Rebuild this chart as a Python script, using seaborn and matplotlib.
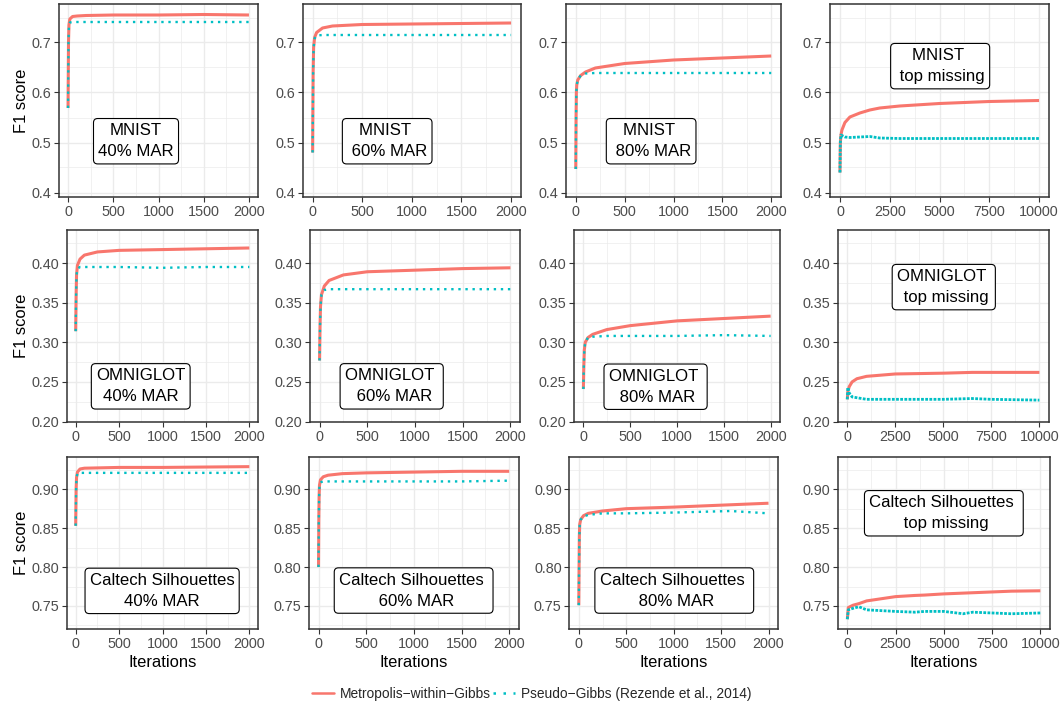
import numpy as np
import pandas as pd
import matplotlib
matplotlib.use("Agg")
import matplotlib.pyplot as plt
from matplotlib.lines import Line2D
from matplotlib.ticker import MultipleLocator, FormatStrFormatter
import seaborn as sns

sns.set_theme(style="white")
plt.rcParams['font.family'] = ['Liberation Sans', 'DejaVu Sans']

# ---------------- data ----------------
methods = ["Metropolis\u2212within\u2212Gibbs", "Pseudo\u2212Gibbs (Rezende et al., 2014)"]

mnist40_it = [0, 5, 10, 20, 50, 100, 200, 500, 1000, 1500, 2000]
mnist40_mwg = [0.569, 0.70, 0.735, 0.747, 0.752, 0.753, 0.754, 0.755, 0.755, 0.756, 0.755]
mnist40_pg = [0.569, 0.70, 0.733, 0.740, 0.741, 0.741, 0.741, 0.741, 0.741, 0.741, 0.741]

mnist60_it = [0, 5, 10, 20, 40, 100, 200, 500, 1000, 1500, 2000]
mnist60_mwg = [0.48, 0.64, 0.69, 0.71, 0.72, 0.729, 0.733, 0.736, 0.737, 0.738, 0.739]
mnist60_pg = [0.48, 0.64, 0.69, 0.708, 0.714, 0.715, 0.715, 0.715, 0.715, 0.715, 0.715]

mnist80_it = [0, 3, 6, 10, 20, 50, 100, 200, 500, 1000, 1500, 2000]
mnist80_mwg = [0.447, 0.55, 0.60, 0.615, 0.625, 0.634, 0.641, 0.649, 0.658, 0.665, 0.669, 0.673]
mnist80_pg = [0.447, 0.55, 0.60, 0.615, 0.625, 0.634, 0.638, 0.639, 0.639, 0.639, 0.639, 0.639]

mnisttop_it = [0, 20, 50, 100, 250, 500, 1000, 1500, 2000, 3000, 5000, 7500, 10000]
mnisttop_mwg = [0.44, 0.50, 0.515, 0.525, 0.54, 0.551, 0.559, 0.565, 0.569, 0.573, 0.578, 0.582, 0.584]
mnisttop_pg = [0.44, 0.50, 0.515, 0.514, 0.511, 0.510, 0.511, 0.512, 0.509, 0.508, 0.508, 0.508, 0.508]

omni40_it = [0, 5, 10, 20, 50, 100, 250, 500, 1000, 1500, 2000]
omni40_mwg = [0.314, 0.36, 0.385, 0.397, 0.405, 0.410, 0.414, 0.416, 0.417, 0.418, 0.419]
omni40_pg = [0.314, 0.36, 0.385, 0.393, 0.395, 0.395, 0.395, 0.395, 0.394, 0.395, 0.395]

omni60_it = [0, 5, 10, 20, 50, 100, 250, 500, 1000, 1500, 2000]
omni60_mwg = [0.277, 0.32, 0.345, 0.36, 0.371, 0.378, 0.385, 0.389, 0.391, 0.393, 0.394]
omni60_pg = [0.277, 0.32, 0.345, 0.36, 0.366, 0.367, 0.367, 0.367, 0.367, 0.367, 0.367]

omni80_it = [0, 5, 10, 20, 50, 100, 250, 500, 1000, 1500, 2000]
omni80_mwg = [0.241, 0.27, 0.29, 0.30, 0.306, 0.310, 0.316, 0.321, 0.327, 0.330, 0.333]
omni80_pg = [0.241, 0.27, 0.29, 0.30, 0.306, 0.307, 0.308, 0.308, 0.308, 0.309, 0.308]

omnitop_it = [0, 30, 100, 250, 500, 1000, 2500, 5000, 6500, 7500, 10000]
omnitop_mwg = [0.228, 0.238, 0.244, 0.250, 0.254, 0.257, 0.260, 0.261, 0.262, 0.262, 0.262]
omnitop_pg = [0.228, 0.243, 0.236, 0.231, 0.230, 0.228, 0.228, 0.228, 0.229, 0.228, 0.227]

cal40_it = [0, 5, 10, 20, 50, 100, 500, 1000, 2000]
cal40_mwg = [0.853, 0.90, 0.915, 0.922, 0.926, 0.927, 0.928, 0.928, 0.929]
cal40_pg = [0.853, 0.90, 0.915, 0.920, 0.921, 0.921, 0.921, 0.921, 0.921]

cal60_it = [0, 3, 6, 10, 20, 50, 100, 250, 500, 1000, 1500, 2000]
cal60_mwg = [0.80, 0.86, 0.89, 0.905, 0.912, 0.916, 0.918, 0.920, 0.921, 0.922, 0.923, 0.923]
cal60_pg = [0.80, 0.86, 0.89, 0.905, 0.909, 0.910, 0.910, 0.910, 0.910, 0.910, 0.910, 0.911]

cal80_it = [0, 3, 6, 10, 20, 50, 100, 250, 500, 1000, 1600, 2000]
cal80_mwg = [0.751, 0.80, 0.84, 0.855, 0.861, 0.866, 0.869, 0.872, 0.875, 0.877, 0.880, 0.882]
cal80_pg = [0.751, 0.80, 0.84, 0.855, 0.861, 0.865, 0.867, 0.869, 0.869, 0.870, 0.872, 0.869]

caltop_it = [0, 50, 300, 600, 1000, 2500, 3500, 4000, 5000, 6000, 6500, 7500, 8500, 10000]
caltop_mwg = [0.733, 0.748, 0.751, 0.753, 0.7565, 0.762, 0.7635, 0.764, 0.7655, 0.7665, 0.767, 0.768, 0.769, 0.7695]
caltop_pg = [0.733, 0.745, 0.747, 0.749, 0.745, 0.743, 0.742, 0.743, 0.743, 0.740, 0.742, 0.741, 0.740, 0.741]

labels = [
    ["MNIST\n40% MAR", "MNIST \n 60% MAR", "MNIST \n 80% MAR", "MNIST \n top missing"],
    ["OMNIGLOT\n40% MAR", "OMNIGLOT \n 60% MAR", "OMNIGLOT \n 80% MAR", "OMNIGLOT \n top missing"],
    ["Caltech Silhouettes\n40% MAR", "Caltech Silhouettes \n 60% MAR",
     "Caltech Silhouettes \n 80% MAR", "Caltech Silhouettes \n top missing"],
]
series = [
    [(mnist40_it, mnist40_mwg, mnist40_pg), (mnist60_it, mnist60_mwg, mnist60_pg),
     (mnist80_it, mnist80_mwg, mnist80_pg), (mnisttop_it, mnisttop_mwg, mnisttop_pg)],
    [(omni40_it, omni40_mwg, omni40_pg), (omni60_it, omni60_mwg, omni60_pg),
     (omni80_it, omni80_mwg, omni80_pg), (omnitop_it, omnitop_mwg, omnitop_pg)],
    [(cal40_it, cal40_mwg, cal40_pg), (cal60_it, cal60_mwg, cal60_pg),
     (cal80_it, cal80_mwg, cal80_pg), (caltop_it, caltop_mwg, caltop_pg)],
]

# ---------------- layout / style ----------------
W, H = 1063, 706
RED, TEAL = "#F8766D", "#00BFC4"
row_y = [(4, 197), (230, 422.3), (457.3, 629)]
col_x = [
    [(59, 258), (302.7, 521), (566, 781), (830, 1049)],
    [(67, 258), (310, 520), (574, 780), (837.7, 1049)],
    [(67, 258), (309, 518.7), (569.3, 778), (837.7, 1050)],
]
ylims = [(0.391, 0.777), (0.199, 0.4417), (0.7204, 0.941)]
ymaj = [0.1, 0.05, 0.05]
yfmt = ["%.1f", "%.2f", "%.2f"]
label_pos = [
    [(0.387, 0.289), (0.387, 0.289), (0.396, 0.289), (0.503, 0.678)],
    [(0.386, 0.187), (0.389, 0.187), (0.396, 0.185), (0.502, 0.703)],
    [(0.498, 0.222), (0.499, 0.224), (0.503, 0.224), (0.500, 0.674)],
]

fig = plt.figure(figsize=(W / 100, H / 100), dpi=100)
fig.patch.set_facecolor("white")

for r in range(3):
    for c in range(4):
        x0, x1 = col_x[r][c]
        y0, y1 = row_y[r]
        ax = fig.add_axes([x0 / W, 1 - y1 / H, (x1 - x0) / W, (y1 - y0) / H])
        it, mwg, pg = series[r][c]
        df = pd.DataFrame({
            "Iterations": list(it) * 2,
            "F1": list(mwg) + list(pg),
            "method": [methods[0]] * len(it) + [methods[1]] * len(it),
        })
        sns.lineplot(data=df[df.method == methods[0]], x="Iterations", y="F1",
                     color=RED, linewidth=2.2, ax=ax, legend=False,
                     errorbar=None, zorder=3, solid_capstyle="butt")
        teal_ls = (0, (1, 0.5)) if c == 3 else (0, (1, 2.0))
        tlw = 2.0 if c == 3 else 1.7
        sns.lineplot(data=df[df.method == methods[1]], x="Iterations", y="F1",
                     color=TEAL, linewidth=tlw, linestyle=teal_ls, ax=ax,
                     legend=False, errorbar=None, zorder=4)
        xmax = 10000 if c == 3 else 2000
        ax.set_xlim(-0.05 * xmax, 1.05 * xmax)
        ax.set_ylim(*ylims[r])
        ax.xaxis.set_major_locator(MultipleLocator(xmax / 4))
        ax.xaxis.set_minor_locator(MultipleLocator(xmax / 8))
        ax.yaxis.set_major_locator(MultipleLocator(ymaj[r]))
        ax.yaxis.set_minor_locator(MultipleLocator(ymaj[r] / 2))
        ax.yaxis.set_major_formatter(FormatStrFormatter(yfmt[r]))
        ax.set_facecolor("white")
        ax.grid(True, which="major", color="#EBEBEB", linewidth=1.0, zorder=0)
        ax.grid(True, which="minor", color="#EBEBEB", linewidth=0.5, zorder=0)
        ax.set_axisbelow(True)
        for s in ax.spines.values():
            s.set_color("#333333")
            s.set_linewidth(1.1)
        ax.tick_params(axis="both", which="major", labelsize=10.4, labelcolor="#4D4D4D",
                       color="#333333", length=3.5, width=0.8, pad=2,
                       bottom=True, left=True)
        ax.tick_params(axis="both", which="minor", length=0)
        if c == 0:
            ax.set_ylabel("F1 score", fontsize=11.9, color="black", labelpad=2)
        else:
            ax.set_ylabel("")
        if r == 2:
            ax.set_xlabel("Iterations", fontsize=11.9, color="black", labelpad=3)
        else:
            ax.set_xlabel("")
        fx, fy = label_pos[r][c]
        ax.text(fx, fy, labels[r][c], transform=ax.transAxes, ha="center", va="center",
                multialignment="center", fontsize=12.1, color="black", linespacing=1.5,
                zorder=6,
                bbox=dict(boxstyle="round,pad=0.28,rounding_size=0.25", fc="white",
                          ec="black", lw=0.8))

handles = [Line2D([], [], color=RED, lw=1.8),
           Line2D([], [], color=TEAL, lw=1.8, linestyle=(0, (1, 3)))]
fig.legend(handles, methods, loc="center", bbox_to_anchor=(0.5, 1 - 694 / H), ncol=2,
           frameon=False, fontsize=9.9, handlelength=1.6, handletextpad=0.45,
           columnspacing=0.15)

fig.savefig("out.png", dpi=100, facecolor="white")
